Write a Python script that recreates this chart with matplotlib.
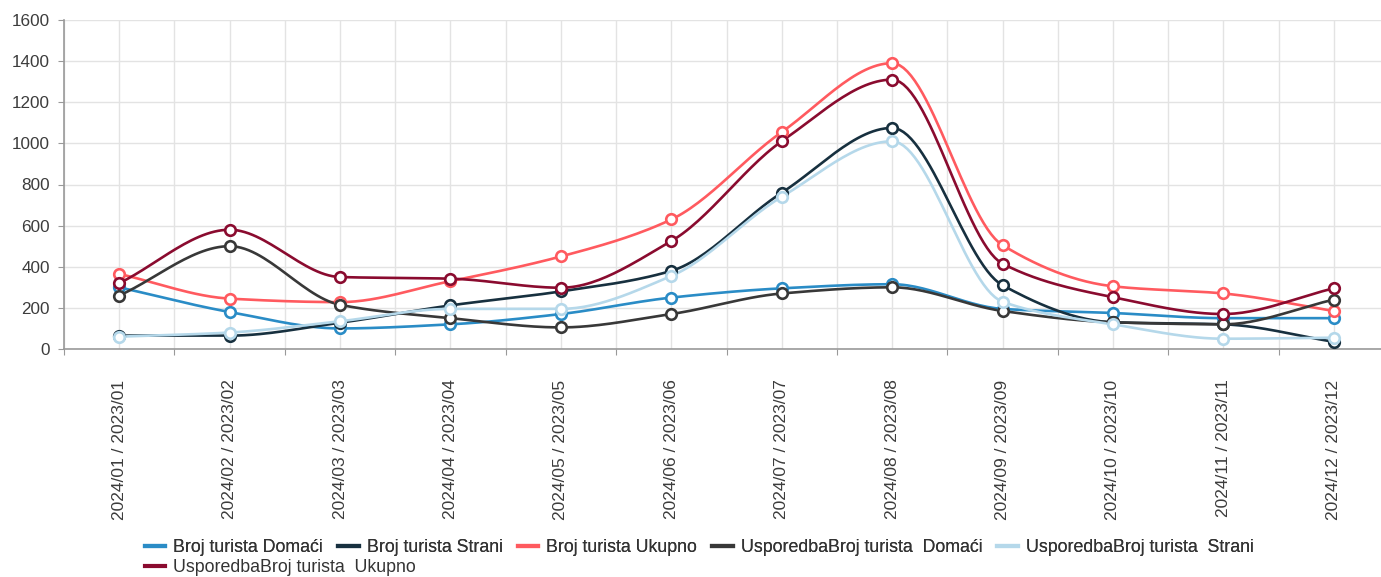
import numpy as np
import matplotlib
matplotlib.use("Agg")
import matplotlib.pyplot as plt
from matplotlib.lines import Line2D

plt.rcParams['font.family'] = ['Liberation Sans', 'DejaVu Sans']

# data
months = ["2024/01 / 2023/01", "2024/02 / 2023/02", "2024/03 / 2023/03",
          "2024/04 / 2023/04", "2024/05 / 2023/05", "2024/06 / 2023/06",
          "2024/07 / 2023/07", "2024/08 / 2023/08", "2024/09 / 2023/09",
          "2024/10 / 2023/10", "2024/11 / 2023/11", "2024/12 / 2023/12"]

domaci = [300, 180, 100, 120, 170, 250, 295, 315, 195, 175, 150, 150]
strani = [65, 65, 128, 212, 280, 380, 760, 1075, 310, 130, 120, 35]
ukupno = [365, 245, 228, 330, 450, 630, 1055, 1390, 505, 305, 270, 185]
usp_domaci = [260, 500, 215, 150, 105, 170, 270, 300, 185, 130, 120, 240]
usp_strani = [60, 80, 135, 195, 195, 355, 740, 1010, 230, 120, 50, 55]
usp_ukupno = [320, 580, 350, 342, 298, 525, 1010, 1310, 415, 252, 170, 295]

series = [
    ("Broj turista Domaći", domaci, "#2a8cc6"),
    ("Broj turista Strani", strani, "#17303f"),
    ("Broj turista Ukupno", ukupno, "#ff5a5f"),
    ("UsporedbaBroj turista  Domaći", usp_domaci, "#383838"),
    ("UsporedbaBroj turista  Strani", usp_strani, "#b5d8ea"),
    ("UsporedbaBroj turista  Ukupno", usp_ukupno, "#8a0b2f"),
]


def monotone_curve(x, y, n=30):
    """Fritsch-Carlson monotone cubic, like the web chart's smoothing."""
    x = np.asarray(x, float)
    y = np.asarray(y, float)
    h = np.diff(x)
    d = np.diff(y) / h
    m = np.zeros_like(y)
    m[0], m[-1] = d[0], d[-1]
    for i in range(1, len(y) - 1):
        if d[i - 1] * d[i] > 0:
            m[i] = 2 * d[i - 1] * d[i] / (d[i - 1] + d[i])
    xs, ys = [], []
    for i in range(len(h)):
        t = np.linspace(0, 1, n)
        h00 = 2 * t**3 - 3 * t**2 + 1
        h10 = t**3 - 2 * t**2 + t
        h01 = -2 * t**3 + 3 * t**2
        h11 = t**3 - t**2
        xs.append(x[i] + t * h[i])
        ys.append(h00 * y[i] + h10 * h[i] * m[i] + h01 * y[i + 1] + h11 * h[i] * m[i + 1])
    return np.concatenate(xs), np.concatenate(ys)


fig = plt.figure(figsize=(13.81, 5.77), dpi=100)
ax = fig.add_axes([64 / 1381, 1 - 349 / 577, 1325 / 1381, 329 / 577])

x = np.arange(len(months))
for name, vals, col in series:
    cx, cy = monotone_curve(x, vals)
    ax.plot(cx, cy, color=col, lw=1.9, zorder=3, solid_capstyle='round')
    ax.plot(x, vals, 'o', ms=7.6, mfc='white', mec=col, mew=1.9, zorder=4)

ax.set_xlim(-0.5, 11.5)
ax.set_ylim(0, 1600)
ax.set_yticks(np.arange(0, 1601, 200))

ax.set_xticks(np.arange(-0.5, 12, 1))
ax.set_xticklabels([])
ax.set_xticks(x, minor=True)
ax.set_xticklabels(months, minor=True, rotation=90, fontsize=12.5, color='#3c3c3c',
                   ha='center', va='top')
ax.tick_params(axis='x', which='minor', length=0, pad=22)
ax.tick_params(axis='x', which='major', length=4, color='#999999')
ax.tick_params(axis='y', length=4, color='#999999', labelsize=12.3, labelcolor='#3c3c3c', pad=6)

ax.grid(True, which='both', axis='x', color='#e3e3e3', lw=1)
ax.grid(True, which='major', axis='y', color='#e3e3e3', lw=1)
ax.set_axisbelow(True)
for s in ['top', 'right']:
    ax.spines[s].set_visible(False)
for s in ['left', 'bottom']:
    ax.spines[s].set_color('#999999')
    ax.spines[s].set_linewidth(1.2)

handles = [Line2D([], [], color=c, lw=3) for _, _, c in series]
labels = [n for n, _, _ in series]
leg_kw = dict(frameon=False, fontsize=12.8, handlelength=1.15, handletextpad=0.45,
              columnspacing=0.85, borderpad=0, borderaxespad=0, labelcolor='#333333')
leg1 = fig.legend(handles[:5], labels[:5], loc='center left', ncol=5,
                  bbox_to_anchor=(145 / 1381, 1 - 548 / 577), **leg_kw)
fig.add_artist(leg1)
fig.legend(handles[5:], labels[5:], loc='center left', ncol=1,
           bbox_to_anchor=(145 / 1381, 1 - 568 / 577), **leg_kw)

fig.savefig("out.png", dpi=100)
